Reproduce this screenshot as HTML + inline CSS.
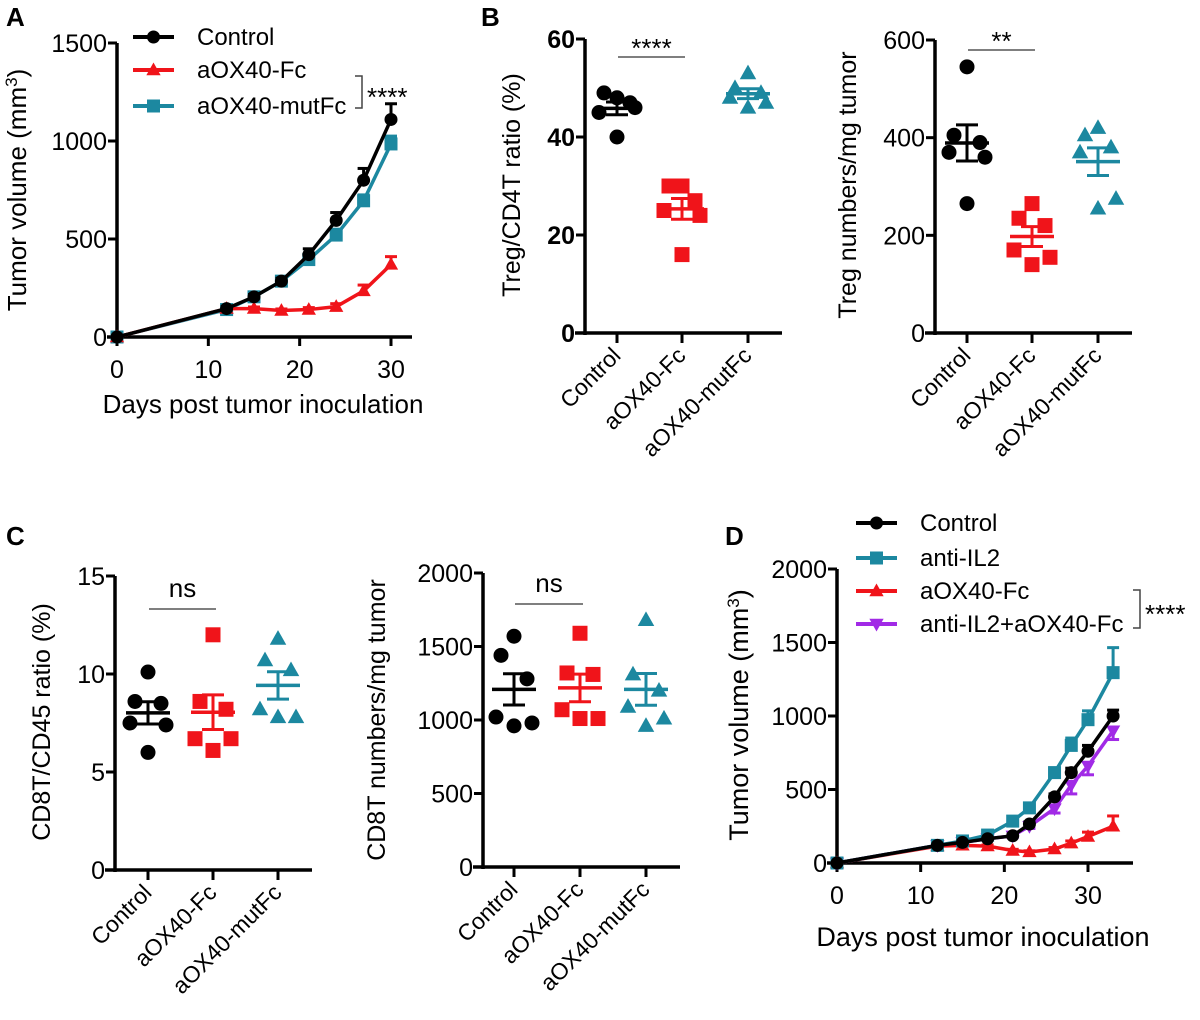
<!DOCTYPE html>
<html><head><meta charset="utf-8"><style>
html,body{margin:0;padding:0;background:#fff}
svg{display:block;font-family:"Liberation Sans",Arial,sans-serif}
</style></head><body>
<svg id="fig" width="1200" height="1020" viewBox="0 0 1200 1020" xmlns="http://www.w3.org/2000/svg"></svg>
<script>
// ---------- Panel A data ----------
const aDays = [0, 12, 15, 18, 21, 24, 27, 30];
const aControl = [0, 145, 205, 285, 420, 595, 800, 1110];
const aControlErr = [0, 10, 12, 15, 30, 40, 60, 80];
const aFc = [0, 145, 145, 135, 140, 155, 235, 370];
const aFcErr = [0, 8, 8, 8, 10, 15, 30, 40];
const aMut = [0, 140, 205, 285, 395, 520, 695, 985];
const aMutErr = [0, 8, 10, 12, 20, 30, 30, 40];
const aYTicks = [0, 500, 1000, 1500];
const aXTicks = [0, 10, 20, 30];
// ---------- Panel D data ----------
const dDays = [0, 12, 15, 18, 21, 23, 26, 28, 30, 33];
const dControl = [0, 120, 140, 165, 185, 265, 450, 615, 760, 1000];
const dControlErr = [0, 8, 10, 10, 12, 15, 20, 30, 40, 40];
const dIL2 = [0, 120, 150, 190, 285, 375, 615, 800, 975, 1295];
const dIL2Err = [0, 8, 10, 12, 20, 25, 30, 50, 60, 170];
const dFc = [0, 115, 120, 115, 85, 75, 95, 135, 180, 250];
const dFcErr = [0, 8, 8, 8, 8, 8, 10, 15, 30, 70];
const dCombo = [0, 120, 140, 165, 185, 250, 370, 530, 660, 900];
const dComboErr = [0, 8, 10, 10, 12, 15, 30, 60, 60, 60];
const dYTicks = [0, 500, 1000, 1500, 2000];
const dXTicks = [0, 10, 20, 30];
// ---------- Scatter data ----------
const groups = ["Control", "aOX40-Fc", "aOX40-mutFc"];
const b1Control = [48, 49, 47, 45, 46, 40];
const b1Fc = [30, 30, 27, 25, 24, 16];
const b1Mut = [53, 50, 49, 48, 47, 46];
const b1Ticks = [0, 20, 40, 60];
const b2Control = [545, 405, 390, 370, 360, 265];
const b2Fc = [265, 235, 220, 170, 155, 140];
const b2Mut = [420, 405, 380, 370, 275, 255];
const b2Ticks = [0, 200, 400, 600];
const c1Control = [10.1, 8.6, 8.5, 7.5, 7.4, 6.0];
const c1Fc = [12, 8.6, 8.2, 6.7, 6.7, 6.1];
const c1Mut = [11.8, 10.7, 10.2, 8.2, 7.8, 7.8];
const c1Ticks = [0, 5, 10, 15];
const c2Control = [1570, 1440, 1280, 1020, 980, 960];
const c2Fc = [1590, 1320, 1310, 1070, 1010, 1010];
const c2Mut = [1680, 1310, 1200, 1090, 1010, 960];
const c2Ticks = [0, 500, 1000, 1500, 2000];

const NS = "http://www.w3.org/2000/svg";
const svg = document.getElementById("fig");
const BLACK = "#000", RED = "#f0141a", TEAL = "#1c88a0", PURPLE = "#a12ae6";

function mk(tag, attrs, parent) {
  const e = document.createElementNS(NS, tag);
  for (const k in attrs) e.setAttribute(k, attrs[k]);
  (parent || svg).appendChild(e);
  return e;
}
function txt(s, x, y, size, opts, parent) {
  const t = mk("text", Object.assign({x: x, y: y, "font-size": size, fill: "#000"}, opts || {}), parent);
  t.textContent = s;
  return t;
}
function marker(g, shape, x, y, color, r) {
  let e;
  if (shape === "circle") e = mk("circle", {cx: x, cy: y, r: r, fill: color}, g);
  else if (shape === "square") e = mk("rect", {x: x - r, y: y - r, width: 2 * r, height: 2 * r, fill: color}, g);
  else if (shape === "tri") e = mk("polygon", {points: `${x},${y - r * 1.15} ${x - r * 1.1},${y + r * 0.8} ${x + r * 1.1},${y + r * 0.8}`, fill: color}, g);
  else e = mk("polygon", {points: `${x},${y + r * 1.15} ${x - r * 1.1},${y - r * 0.8} ${x + r * 1.1},${y - r * 0.8}`, fill: color}, g);
  
  
  return e;
}
function yAxis(g, ax, ticks, sy, yTop, yBot, fs, bold) {
  const l = mk("line", {x1: ax, y1: yTop, x2: ax, y2: yBot, stroke: "#000", "stroke-width": 3.5}, g);
  
  
  ticks.forEach(v => {
    const y = sy(v);
    mk("line", {x1: ax - 9, y1: y, x2: ax, y2: y, stroke: "#000", "stroke-width": 3}, g);
    const t = txt(String(v), ax - 10, y + fs * 0.36, fs, {"text-anchor": "end", "font-weight": bold ? "bold" : "normal"}, g);
    
    
  });
}
function xAxisLine(g, x1, x2, y) {
  const l = mk("line", {x1: x1, y1: y, x2: x2, y2: y, stroke: "#000", "stroke-width": 3.5}, g);
  
  
}
function ytitle(g, s, x, y, fs) {
  const t = txt("", x, y, fs, {"text-anchor": "middle", transform: `rotate(-90 ${x} ${y})`}, g);
  t.innerHTML = s;
  
  
}
function panelLabel(s, x, y) {
  const t = txt(s, x, y, 26, {"font-weight": "bold"});
  
  
}

// ---------- line chart ----------
function lineChart(cfg) {
  const g = mk("g", {});
  
  
  const sx = d => cfg.x0 + (d - cfg.xmin) / (cfg.xmax - cfg.xmin) * (cfg.x1 - cfg.x0);
  const sy = v => cfg.y0 - (v - cfg.ymin) / (cfg.ymax - cfg.ymin) * (cfg.y0 - cfg.y1);
  yAxis(g, cfg.x0, cfg.yTicks, sy, cfg.y1, cfg.y0 + 2, cfg.fs, false);
  xAxisLine(g, cfg.x0 - 10, cfg.xEnd, cfg.y0);
  cfg.xTicks.forEach(v => {
    const x = sx(v);
    mk("line", {x1: x, y1: cfg.y0, x2: x, y2: cfg.y0 + 9, stroke: "#000", "stroke-width": 3}, g);
    const t = txt(String(v), x, cfg.y0 + 41, cfg.fs, {"text-anchor": "middle"}, g);
    
    
  });
  cfg.series.slice().reverse().forEach(s => {
    const sg = mk("g", {}, g);
    
    
    const pts = s.vals.map((v, i) => `${sx(cfg.days[i])},${sy(v)}`).join(" ");
    const pl = mk("polyline", {points: pts, fill: "none", stroke: s.color, "stroke-width": 3.5}, sg);
    
    
    s.vals.forEach((v, i) => {
      const x = sx(cfg.days[i]), y = sy(v), e = s.err[i];
      if (e > 0) {
        const yt = s.shape === "dtri" ? sy(v - e) : sy(v + e);
        mk("line", {x1: x, y1: y, x2: x, y2: yt, stroke: s.color, "stroke-width": 3}, sg);
        mk("line", {x1: x - 6, y1: yt, x2: x + 6, y2: yt, stroke: s.color, "stroke-width": 3}, sg);
      }
      marker(sg, s.shape, x, y, s.color, 6.5);
    });
  });
  cfg.series.forEach((s, i) => {
    const ly = cfg.legY[i];
    const lg = mk("g", {}, g);
    
    
    mk("line", {x1: cfg.legX, y1: ly, x2: cfg.legX + 41, y2: ly, stroke: s.color, "stroke-width": 4}, lg);
    marker(lg, s.shape, cfg.legX + 20.5, ly, s.color, 6.5);
    txt(s.label, cfg.legX + 64, ly + 8, cfg.legFs, {}, lg);
  });
  const b = cfg.bracket;
  const br = mk("polyline", {points: `${b.x - 7},${b.y1} ${b.x},${b.y1} ${b.x},${b.y2} ${b.x - 7},${b.y2}`, fill: "none", stroke: "#444", "stroke-width": 1.5}, g);
  
  
  const st = txt("****", b.x + 5, (b.y1 + b.y2) / 2 + 14, 26, {}, g);
  
  
  ytitle(g, cfg.ytitle, cfg.ytX, cfg.ytY, cfg.titleFs);
  const xt = txt(cfg.xtitle, cfg.xtX, cfg.xtY, cfg.titleFs, {"text-anchor": "middle"}, g);
  
  
}

lineChart({
  name: "panel-a-tumor-growth", days: aDays, x0: 117, x1: 391, xmin: 0, xmax: 30, xEnd: 412,
  y0: 337, y1: 43, ymin: 0, ymax: 1500, yTicks: aYTicks, xTicks: aXTicks, fs: 25, legFs: 24,
  series: [
    {key: "control", label: "Control", vals: aControl, err: aControlErr, color: BLACK, shape: "circle"},
    {key: "aox40-fc", label: "aOX40-Fc", vals: aFc, err: aFcErr, color: RED, shape: "tri"},
    {key: "aox40-mutfc", label: "aOX40-mutFc", vals: aMut, err: aMutErr, color: TEAL, shape: "square"}
  ],
  legX: 133, legY: [37, 70, 106], bracket: {x: 362, y1: 76, y2: 108},
  ytitle: 'Tumor volume (mm<tspan baseline-shift="super" font-size="17">3</tspan>)', ytX: 26, ytY: 190, titleFs: 26,
  xtitle: "Days post tumor inoculation", xtX: 263, xtY: 413
});
lineChart({
  name: "panel-d-tumor-growth", days: dDays, x0: 837, x1: 1088, xmin: 0, xmax: 30, xEnd: 1133,
  y0: 863, y1: 569, ymin: 0, ymax: 2000, yTicks: dYTicks, xTicks: dXTicks, fs: 25, legFs: 24,
  series: [
    {key: "control", label: "Control", vals: dControl, err: dControlErr, color: BLACK, shape: "circle"},
    {key: "anti-il2", label: "anti-IL2", vals: dIL2, err: dIL2Err, color: TEAL, shape: "square"},
    {key: "aox40-fc", label: "aOX40-Fc", vals: dFc, err: dFcErr, color: RED, shape: "tri"},
    {key: "anti-il2-aox40-fc", label: "anti-IL2+aOX40-Fc", vals: dCombo, err: dComboErr, color: PURPLE, shape: "dtri"}
  ],
  legX: 856, legY: [523, 558, 591, 624], bracket: {x: 1140, y1: 590, y2: 628},
  ytitle: 'Tumor volume (mm<tspan baseline-shift="super" font-size="17">3</tspan>)', ytX: 748, ytY: 715, titleFs: 27,
  xtitle: "Days post tumor inoculation", xtX: 983, xtY: 946
});

// ---------- scatter charts ----------
function scatter(cfg) {
  const g = mk("g", {});
  
  
  const sy = v => cfg.y0 - (v - cfg.ymin) / (cfg.ymax - cfg.ymin) * (cfg.y0 - cfg.y1);
  yAxis(g, cfg.x0, cfg.ticks, sy, cfg.y1, cfg.y0 + 2, cfg.fs, cfg.bold);
  xAxisLine(g, cfg.x0 - 10, cfg.xEnd, cfg.y0);
  const shapes = ["circle", "square", "tri"], colors = [BLACK, RED, TEAL];
  [cfg.a, cfg.b, cfg.c].forEach((vals, gi) => {
    const cx = cfg.cats[gi];
    mk("line", {x1: cx, y1: cfg.y0, x2: cx, y2: cfg.y0 + 10, stroke: "#000", "stroke-width": 3}, g);
    const tx = cx + 5, ty = cfg.y0 + 24;
    const t = txt(groups[gi], tx, ty, 23, {"text-anchor": "end", transform: `rotate(-45 ${tx} ${ty})`}, g);
    
    
    const sg = mk("g", {}, g);
    
    
    const offs = [0, -13, 13, -18, 18, 0];
    vals.forEach((v, i) => marker(sg, shapes[gi], cx + offs[i], sy(v), colors[gi], 7.5));
    const n = vals.length, mean = vals.reduce((s, v) => s + v, 0) / n;
    const sd = Math.sqrt(vals.reduce((s, v) => s + (v - mean) * (v - mean), 0) / (n - 1));
    const sem = sd / Math.sqrt(n);
    mk("line", {x1: cx - 22, y1: sy(mean), x2: cx + 22, y2: sy(mean), stroke: colors[gi], "stroke-width": 3.5}, sg);
    mk("line", {x1: cx, y1: sy(mean - sem), x2: cx, y2: sy(mean + sem), stroke: colors[gi], "stroke-width": 3}, sg);
    mk("line", {x1: cx - 11, y1: sy(mean - sem), x2: cx + 11, y2: sy(mean - sem), stroke: colors[gi], "stroke-width": 3}, sg);
    mk("line", {x1: cx - 11, y1: sy(mean + sem), x2: cx + 11, y2: sy(mean + sem), stroke: colors[gi], "stroke-width": 3}, sg);
  });
  const bl = mk("line", {x1: cfg.cats[0] + 1, y1: cfg.sigY, x2: cfg.cats[1] + 3, y2: cfg.sigY, stroke: "#555", "stroke-width": 1.5}, g);
  
  
  const ns = cfg.sig === "ns";
  const st = txt(cfg.sig, (cfg.cats[0] + cfg.cats[1]) / 2 + 2, cfg.sigY - (ns ? 12 : 0), ns ? 26 : 26, {"text-anchor": "middle"}, g);
  
  
  ytitle(g, cfg.ytitle, cfg.ytX, cfg.ytY, 25);
}

scatter({name: "panel-b-treg-ratio", x0: 585, y0: 333, y1: 39, ymin: 0, ymax: 60, ticks: b1Ticks, bold: true, fs: 25,
  xEnd: 782, cats: [617, 682, 748], a: b1Control, b: b1Fc, c: b1Mut, sig: "****", sigY: 57,
  ytitle: "Treg/CD4T ratio (%)", ytX: 520, ytY: 185});
scatter({name: "panel-b-treg-numbers", x0: 935, y0: 333, y1: 40, ymin: 0, ymax: 600, ticks: b2Ticks, bold: false, fs: 25,
  xEnd: 1132, cats: [967, 1032, 1098], a: b2Control, b: b2Fc, c: b2Mut, sig: "**", sigY: 50,
  ytitle: "Treg numbers/mg tumor", ytX: 856, ytY: 185});
scatter({name: "panel-c-cd8-ratio", x0: 115, y0: 870, y1: 576, ymin: 0, ymax: 15, ticks: c1Ticks, bold: false, fs: 25,
  xEnd: 312, cats: [148, 213, 278], a: c1Control, b: c1Fc, c: c1Mut, sig: "ns", sigY: 609,
  ytitle: "CD8T/CD45 ratio (%)", ytX: 50, ytY: 722});
scatter({name: "panel-c-cd8-numbers", x0: 483, y0: 867, y1: 573, ymin: 0, ymax: 2000, ticks: c2Ticks, bold: false, fs: 25,
  xEnd: 680, cats: [514, 580, 646], a: c2Control, b: c2Fc, c: c2Mut, sig: "ns", sigY: 604,
  ytitle: "CD8T numbers/mg tumor", ytX: 385, ytY: 720});

panelLabel("A", 6, 26);
panelLabel("B", 481, 26);
panelLabel("C", 6, 545);
panelLabel("D", 725, 545);
</script>
</body></html>
